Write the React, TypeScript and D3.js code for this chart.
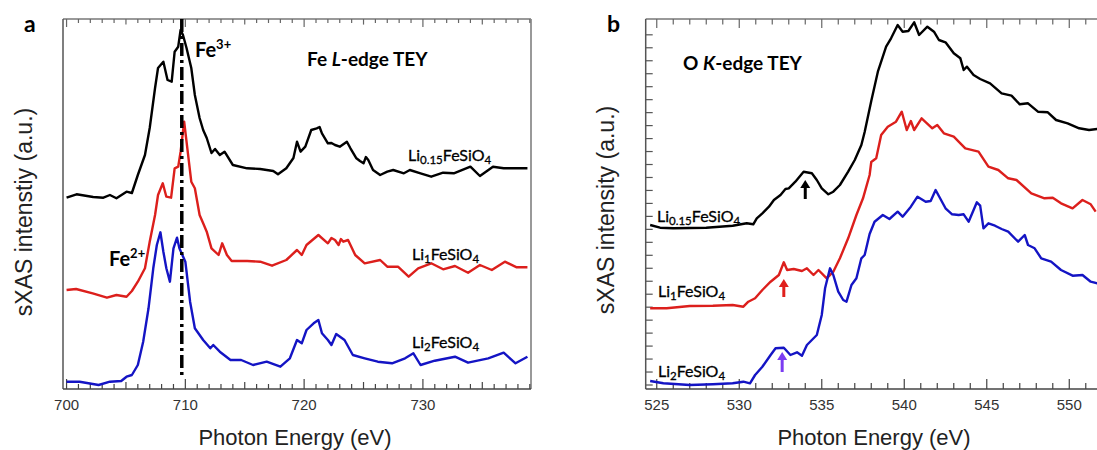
import React from "react";
import * as d3 from "d3";

// Fe L-edge (panel a): [photon energy eV, intensity a.u.]
const feLi015: [number, number][] = [
  [700.0, 191.3], [700.84, 194.7], [702.24, 192], [703.1, 191.3], [703.65, 194], [704.2, 190.7],
  [705.05, 197.3], [705.5, 196], [706.0, 214], [706.6, 234], [707.0, 261], [707.45, 301],
  [707.7, 321], [708.15, 327.3], [708.5, 309], [708.85, 307.3], [709.1, 337.3], [709.4, 342.3],
  [709.6, 359], [709.8, 354], [710.1, 341], [710.5, 321], [710.8, 294], [711.2, 271],
  [711.5, 259], [711.8, 251], [712.2, 236], [712.5, 240], [712.9, 234], [713.3, 237.3],
  [714.0, 224], [715.2, 220.7], [716.3, 220], [717.4, 218], [717.8, 214.7], [718.5, 220.7],
  [719.1, 231], [719.4, 247.3], [719.7, 237.3], [720.1, 242.3], [720.6, 259], [721.06, 260.7],
  [721.3, 262], [721.5, 255.7], [722.0, 245.7], [722.3, 246], [722.6, 244], [723.0, 242.3],
  [723.6, 247.3], [723.9, 240.7], [724.4, 230.7], [724.7, 228], [725.0, 225.7], [725.2, 232],
  [725.4, 229], [725.8, 219], [726.4, 214], [727.0, 217.3], [727.5, 219], [728.4, 215.7],
  [728.9, 219], [729.8, 215.7], [730.7, 212.3], [731.7, 216.3], [732.6, 215.7], [734.0, 222.3],
  [734.8, 213], [735.9, 222.3], [736.8, 220.7], [738.8, 220.7],
];
const feLi1: [number, number][] = [
  [700.0, 99], [700.8, 100], [702.2, 95.7], [703.4, 91.3], [704.2, 94], [705.05, 92.3],
  [705.5, 98], [706.0, 107.3], [706.6, 120.7], [707.0, 147.3], [707.45, 174], [707.7, 194],
  [708.1, 205.7], [708.4, 192.3], [708.8, 191.3], [709.1, 220.7], [709.4, 222.3], [709.6, 237.3],
  [709.9, 267.3], [710.1, 247.3], [710.5, 207.3], [710.8, 200.7], [711.2, 174], [711.5, 165.7],
  [711.8, 157.3], [712.2, 140.7], [712.8, 134], [713.1, 145.7], [713.5, 134], [713.9, 128],
  [715.2, 128], [716.3, 127.3], [717.3, 123.3], [718.5, 129], [719.4, 139], [719.8, 134],
  [720.2, 144], [721.2, 154], [722.0, 145.7], [722.3, 151], [722.6, 149], [722.9, 144],
  [723.1, 150], [723.3, 147.3], [723.7, 149], [724.3, 134], [725.1, 125.7], [726.4, 129],
  [727.0, 122.3], [727.9, 122.3], [728.8, 112.3], [729.6, 120.7], [730.7, 125.7], [731.7, 119.7],
  [732.7, 123], [733.8, 116.3], [734.8, 124], [735.8, 119], [736.9, 127.3], [737.9, 121.7],
  [738.8, 121.7],
];
const feLi2: [number, number][] = [
  [700.0, 7.3], [701.1, 7.3], [702.7, 4], [703.65, 7.3], [704.6, 8], [705.05, 12.3],
  [705.5, 14], [706.0, 24], [706.45, 47.3], [706.9, 80.7], [707.3, 120.7], [707.6, 144],
  [707.9, 156.7], [708.15, 137.3], [708.4, 120.7], [708.7, 107.3], [709.0, 140.7], [709.3, 151.3],
  [709.5, 140.7], [710.0, 127.3], [710.4, 87.3], [710.8, 60.7], [711.5, 49], [712.1, 40.7],
  [712.35, 44], [712.9, 37.3], [713.8, 29], [714.7, 29], [715.7, 24], [716.85, 27.3],
  [718.0, 22.3], [718.8, 30.7], [719.4, 49], [719.8, 45.7], [720.2, 59], [720.8, 65.7],
  [721.2, 69], [721.5, 55.7], [722.0, 49], [722.3, 44], [722.7, 55], [723.4, 49],
  [724.1, 34], [725.1, 30.7], [726.2, 27.3], [727.4, 25.7], [728.5, 30.7], [729.2, 35.7],
  [729.8, 24], [731.0, 28.3], [732.7, 32.3], [733.8, 26.3], [735.5, 30.7], [736.8, 36.3],
  [737.8, 25.7], [738.8, 32.3],
];

// O K-edge (panel b)
const oLi015: [number, number][] = [
  [524.6, 164], [525.2, 161.3], [526.0, 160.7], [528.0, 161.3], [529.6, 163.3], [530.45, 165.7],
  [530.85, 164.7], [531.06, 170.7], [531.4, 175.7], [531.8, 182.3], [532.1, 189], [532.5, 194],
  [532.8, 200], [533.0, 200.7], [533.4, 207.3], [533.9, 217.3], [534.4, 215.7], [534.7, 209],
  [535.0, 200.7], [535.4, 194.7], [535.7, 197.3], [536.1, 204], [536.6, 217.3], [537.0, 229],
  [537.4, 244], [537.6, 257], [538.0, 288], [538.4, 317.3], [538.9, 342.3], [539.2, 350.7],
  [539.6, 364], [539.9, 357.3], [540.25, 358], [540.6, 366.7], [540.9, 354], [541.4, 362.3],
  [541.8, 357.3], [542.1, 349], [542.5, 346.7], [543.0, 335.7], [543.4, 330.7], [543.6, 319],
  [543.8, 322.3], [544.2, 314], [544.6, 310], [545.2, 305.7], [545.9, 295.7], [546.5, 293.3],
  [547.0, 284.7], [547.5, 285.7], [548.1, 277.3], [548.7, 276.7], [549.2, 269], [549.9, 265.7],
  [550.6, 260.7], [551.2, 259], [551.7, 260],
];
const oLi1: [number, number][] = [
  [524.6, 80.7], [525.6, 80.7], [527.0, 83], [528.4, 83.3], [529.6, 84], [530.25, 82.3],
  [530.55, 87.3], [530.96, 90.7], [531.4, 99], [531.9, 107.3], [532.4, 114], [532.7, 126.7],
  [532.9, 119], [533.3, 120], [533.8, 118], [534.1, 120.7], [534.5, 114], [534.8, 119],
  [535.3, 110.7], [535.7, 117.3], [536.1, 130.7], [536.6, 150.7], [537.1, 174], [537.5, 190.7],
  [537.9, 214], [538.0, 227], [538.3, 230.7], [538.6, 254], [539.0, 262.3], [539.5, 267.3],
  [539.85, 277.3], [540.15, 259], [540.4, 268], [540.6, 259], [541.05, 270.7], [541.7, 260.7],
  [542.0, 264], [542.4, 255.7], [543.0, 252.3], [543.4, 245.7], [543.7, 240.7], [544.5, 237.3],
  [545.1, 222.3], [545.7, 219], [546.3, 210.7], [546.8, 209], [547.7, 195.7], [548.5, 190.7],
  [549.0, 191.3], [549.5, 185.7], [550.2, 180.7], [550.8, 189], [551.3, 184.7], [551.6, 177.3],
];
const oLi2: [number, number][] = [
  [524.6, 8], [525.4, 5.7], [527.0, 4], [528.4, 4.7], [529.6, 5.7], [530.25, 7.3],
  [530.65, 5.7], [530.96, 14], [531.4, 22.3], [531.9, 34], [532.2, 40.7], [532.7, 41.3],
  [533.1, 34], [533.5, 36.7], [533.8, 33.3], [534.1, 44], [534.4, 49], [534.7, 54],
  [535.0, 74], [535.2, 100.7], [535.5, 120.7], [535.7, 114], [536.0, 97.3], [536.3, 89],
  [536.5, 87.3], [536.8, 104], [537.1, 110.7], [537.4, 130.7], [537.6, 134], [537.9, 155],
  [538.2, 167.3], [538.7, 174], [539.1, 170], [539.6, 177.3], [539.9, 172.3], [540.4, 182.3],
  [540.8, 192.3], [541.3, 187.3], [541.6, 188], [541.9, 199], [542.5, 180.7], [542.9, 174.7],
  [543.3, 174], [543.6, 174.7], [543.9, 167.3], [544.4, 186.7], [544.6, 183.3], [544.8, 160.7],
  [545.1, 165.7], [545.5, 163.3], [545.9, 160], [546.3, 157.3], [546.9, 147.3], [547.3, 154],
  [547.5, 144], [547.9, 140.7], [548.3, 130.7], [548.9, 127.3], [549.5, 119], [550.2, 113.3],
  [550.8, 114], [551.3, 107.3], [551.7, 105.7],
];

const feTickLabels = [700, 710, 720, 730];
const oTickLabels = [525, 530, 535, 540, 545, 550];
// arrows on O K-edge: [energy, from, to, colour]
const oArrows: [number, number, number, string][] = [
  [534.0, 190, 209, "#000000"],
  [532.7, 92, 110, "#e0201c"],
  [532.6, 17, 37, "#7b3cf2"],
];

const BLACK = "#000000";
const RED = "#dc1f1c";
const BLUE = "#1414c4";
const SANS = "'Liberation Sans', Arial, sans-serif";
const LABEL = "Lato, 'Open Sans', sans-serif";

const top = 19;
const bottom = 389;

const Compound = ({ x, y, sub }: { x: number; y: number; sub: string }) => (
  <text x={x} y={y} fontFamily={LABEL} fontSize={16} fill="#000" stroke="#000" strokeWidth={0.3}>
    Li
    <tspan fontSize={11.5} dy={3}>{sub}</tspan>
    <tspan dy={-3}>FeSiO</tspan>
    <tspan fontSize={11.5} dy={3}>4</tspan>
  </text>
);

const App = () => {
  const xa = d3.scaleLinear().domain([699.7, 739.1]).range([63, 531]);
  const xb = d3.scaleLinear().domain([524.33, 551.62]).range([645.7, 1096]);
  const y = d3.scaleLinear().domain([0, 370]).range([bottom, top]);

  const lineA = d3.line<[number, number]>().x((d) => xa(d[0])).y((d) => y(d[1]));
  const lineB = d3.line<[number, number]>().x((d) => xb(d[0])).y((d) => y(d[1]));

  const tickLenA = (e: number) => (e % 10 === 0 ? 10 : e % 5 === 0 ? 7 : 5);
  const tickLenB = (e: number) => (e % 5 === 0 ? 10 : 6);
  const yTicksB = d3.range(4, 356, 12.97);

  return (
    <svg width={1097} height={450} style={{ position: "absolute", left: 0, top: 0, background: "#fff" }}>
      {/* panel a frame */}
      <line x1={63} y1={top} x2={531} y2={top} stroke="#999" strokeWidth={2} />
      <line x1={531} y1={top} x2={531} y2={bottom} stroke="#999" strokeWidth={2} />
      <line x1={63} y1={top} x2={63} y2={bottom} stroke="#555" strokeWidth={1.5} />
      <line x1={63} y1={bottom} x2={531} y2={bottom} stroke="#444" strokeWidth={1.5} />
      {xa.ticks(40).map((e) => (
        <g key={e}>
          <line x1={xa(e)} x2={xa(e)} y1={bottom} y2={bottom - tickLenA(e)} stroke="#444" strokeWidth={1.2} />
          <line x1={xa(e)} x2={xa(e)} y1={top} y2={top + tickLenA(e) * 0.8} stroke="#666" strokeWidth={1.2} />
        </g>
      ))}
      {feTickLabels.map((e) => (
        <text key={e} x={xa(e)} y={410} textAnchor="middle" fontFamily={SANS} fontSize={15} fill="#333">
          {e}
        </text>
      ))}

      {/* panel b frame */}
      <line x1={645.7} y1={top} x2={1097} y2={top} stroke="#999" strokeWidth={2} />
      <line x1={645.7} y1={top} x2={645.7} y2={bottom} stroke="#555" strokeWidth={1.5} />
      <line x1={645.7} y1={bottom} x2={1097} y2={bottom} stroke="#444" strokeWidth={1.5} />
      {xb.ticks(30).map((e) => (
        <g key={e}>
          <line x1={xb(e)} x2={xb(e)} y1={bottom} y2={bottom - tickLenB(e)} stroke="#444" strokeWidth={1.2} />
          <line x1={xb(e)} x2={xb(e)} y1={top} y2={top + tickLenB(e) * 0.9} stroke="#666" strokeWidth={1.2} />
        </g>
      ))}
      {yTicksB.map((v, i) => (
        <line key={i} x1={645.7} x2={652.7} y1={y(v)} y2={y(v)} stroke="#555" strokeWidth={1.2} />
      ))}
      {oTickLabels.map((e) => (
        <text key={e} x={xb(e)} y={410} textAnchor="middle" fontFamily={SANS} fontSize={15} fill="#333">
          {e}
        </text>
      ))}

      {/* curves */}
      <g fill="none" strokeWidth={2.4} strokeLinejoin="round">
        <path d={lineA(feLi015) ?? ""} stroke={BLACK} />
        <path d={lineA(feLi1) ?? ""} stroke={RED} />
        <path d={lineA(feLi2) ?? ""} stroke={BLUE} />
        <path d={lineB(oLi015) ?? ""} stroke={BLACK} />
        <path d={lineB(oLi1) ?? ""} stroke={RED} />
        <path d={lineB(oLi2) ?? ""} stroke={BLUE} />
      </g>

      {/* Fe3+ reference line */}
      <line x1={xa(709.7)} x2={xa(709.7)} y1={top} y2={377} stroke="#000" strokeWidth={3.5} strokeDasharray="13 4 3 4" />

      {oArrows.map(([e, from, to, c]) => (
        <g key={e}>
          <line x1={xb(e)} x2={xb(e)} y1={y(from)} y2={y(to) + 6} stroke={c} strokeWidth={3} />
          <path d={`M${xb(e) - 5},${y(to) + 8} L${xb(e)},${y(to)} L${xb(e) + 5},${y(to) + 8} Z`} fill={c} />
        </g>
      ))}

      {/* panel letters and annotations */}
      <text x={24} y={32} fontFamily={LABEL} fontWeight="bold" fontSize={23}>a</text>
      <text x={607} y={32} fontFamily={LABEL} fontWeight="bold" fontSize={23}>b</text>

      <text x={195} y={57} fontFamily={LABEL} fontWeight="bold" fontSize={20}>
        Fe<tspan fontSize={13} dy={-8}>3+</tspan>
      </text>
      <text x={109} y={266} fontFamily={LABEL} fontWeight="bold" fontSize={20}>
        Fe<tspan fontSize={13} dy={-8}>2+</tspan>
      </text>
      <text x={307} y={66} fontFamily={LABEL} fontWeight="bold" fontSize={19}>
        Fe <tspan fontStyle="italic">L</tspan>-edge TEY
      </text>
      <text x={683} y={70} fontFamily={LABEL} fontWeight="bold" fontSize={19}>
        O <tspan fontStyle="italic">K</tspan>-edge TEY
      </text>

      <Compound x={408} y={161} sub="0.15" />
      <Compound x={412} y={260} sub="1" />
      <Compound x={412} y={348} sub="2" />
      <Compound x={657} y={222} sub="0.15" />
      <Compound x={658} y={297} sub="1" />
      <Compound x={658} y={377} sub="2" />

      {/* axis titles */}
      <text transform="translate(32,212) rotate(-90)" textAnchor="middle" fontFamily={SANS} fontSize={23} fill="#222">
        sXAS intenstiy (a.u.)
      </text>
      <text transform="translate(614,210) rotate(-90)" textAnchor="middle" fontFamily={SANS} fontSize={23} fill="#222">
        sXAS intensity (a.u.)
      </text>
      <text x={295} y={445} textAnchor="middle" fontFamily={SANS} fontSize={22} fill="#222">
        Photon Energy (eV)
      </text>
      <text x={874} y={445} textAnchor="middle" fontFamily={SANS} fontSize={22} fill="#222">
        Photon Energy (eV)
      </text>
    </svg>
  );
};

export default App;
